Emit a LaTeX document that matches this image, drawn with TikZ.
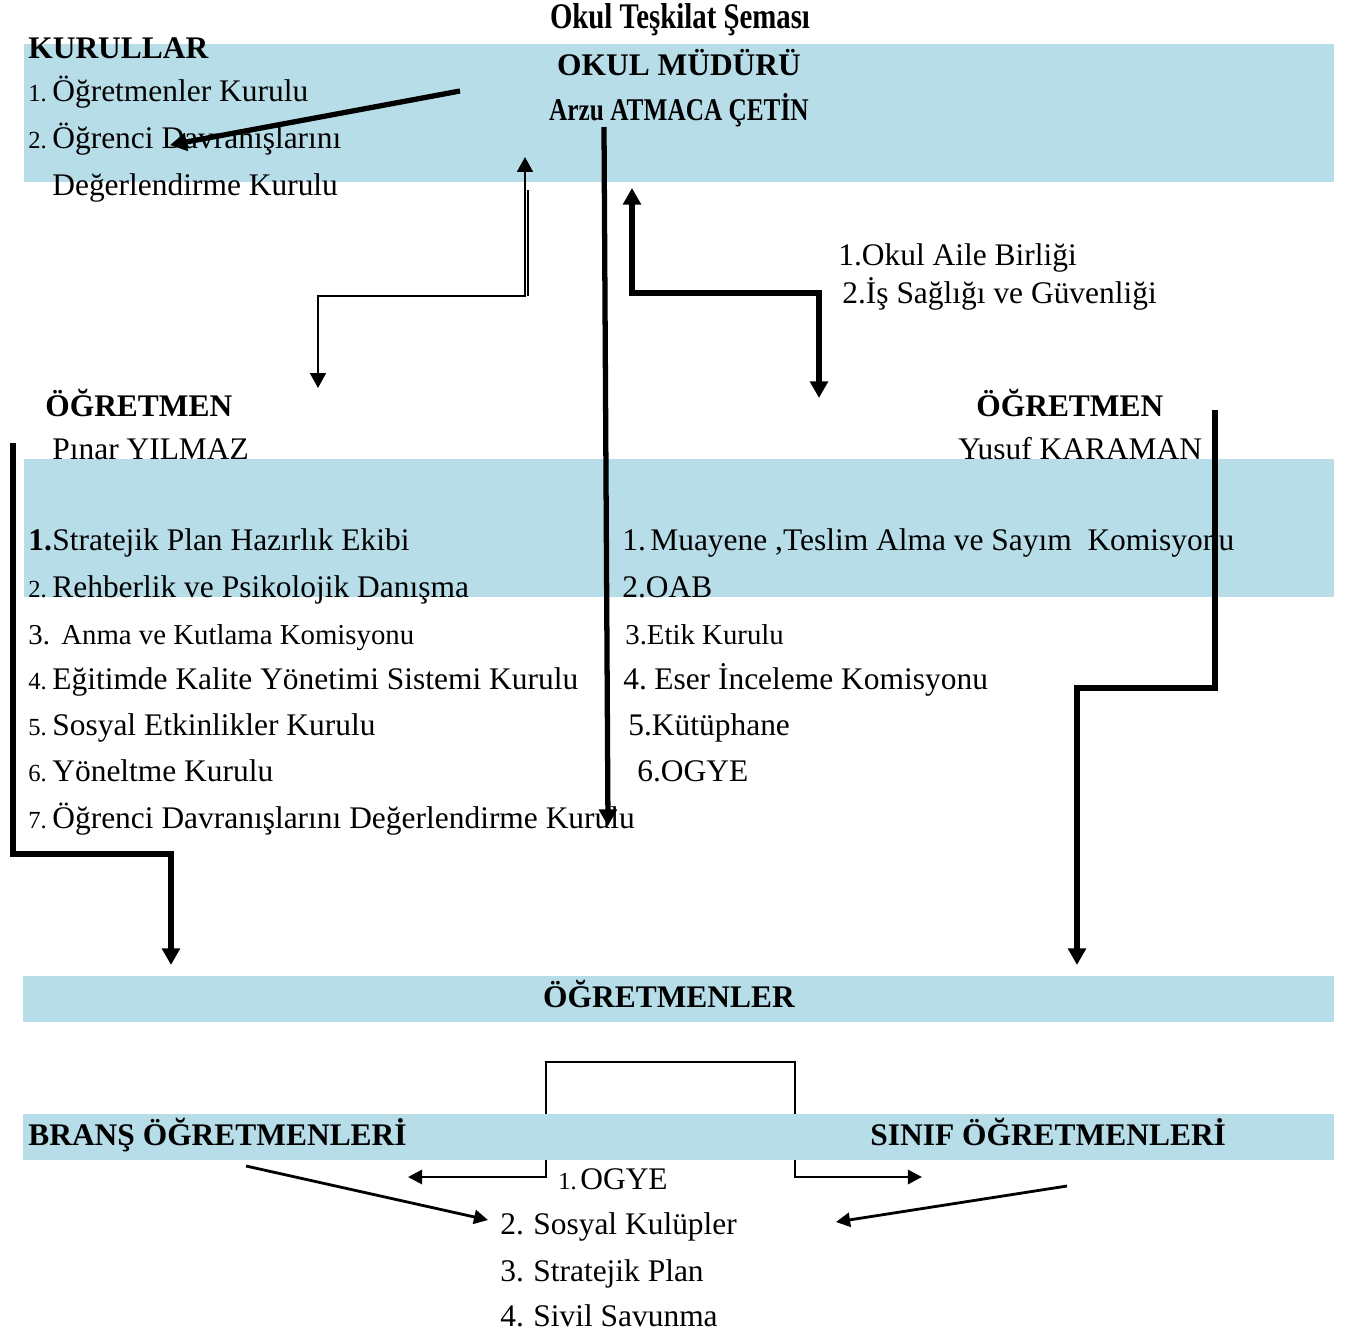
\documentclass[tikz,border=0pt]{standalone}
\usepackage{fontspec}
\setmainfont{Liberation Serif}
\newfontfamily\narrowfont{Liberation Serif}[FakeStretch=0.8]
\usetikzlibrary{arrows.meta,positioning}
\definecolor{bandblue}{RGB}{183,221,232}
\newcommand{\sno}[1]{{\fontsize{14}{16}\selectfont #1}}
\newcommand{\itm}[2][0.48cm]{\makebox[#1][l]{#2}}

\begin{document}
\begin{tikzpicture}[x=0.02cm,y=-0.02cm,
    band/.style={fill=bandblue},
    txt/.style={anchor=base west,inner sep=0pt,font=\fontsize{17.9}{21}\selectfont},
    smalltxt/.style={txt,font=\fontsize{16.4}{19}\selectfont},
    head/.style={txt,font=\fontsize{17.9}{21}\selectfont\bfseries},
    narrowhead/.style={anchor=base,inner sep=0pt},
    thinline/.style={line width=1.3pt},
    midline/.style={line width=1.6pt},
    thickline/.style={line width=3pt},
    bigtip/.tip={Triangle[length=9.5pt,width=10pt]},
    smalltip/.tip={Triangle[length=8.5pt,width=9pt]},
    midtip/.tip={Triangle[length=8pt,width=8pt]}]
    \useasboundingbox (0,0) rectangle (1350,1336);

    % link between the two teacher groups (under the band)
    \coordinate (brL) at (408,1177);
    \coordinate (brLc) at (546,1177);
    \coordinate (brTop) at (546,1062);
    \coordinate (brRc) at (795,1177);
    \coordinate (brR) at (922,1177);
    \draw[midline,{midtip}-{midtip}] (brL) -- (brLc) -- (brTop) -| (brRc) -- (brR);

    % bands
    \fill[band] (24,44) rectangle (1334,182);
    \fill[band] (24,459) rectangle (1334,597);
    \fill[band] (23,976) rectangle (1334,1022);
    \fill[band] (23,1114) rectangle (1334,1160);

    % top
    \node[narrowhead,font={\fontsize{20.5}{23}\selectfont\narrowfont\bfseries}] (title) at (680,28) {Okul Teşkilat Şeması};
    \node[head] (kurullar) at (28,58) {KURULLAR};
    \node[txt] (k1) at (28,101) {\itm{\sno{1.}}Öğretmenler Kurulu};
    \node[txt] (k2) at (28,148) {\itm{\sno{2.}}Öğrenci Davranışlarını};
    \node[txt] (k3) at (52,195) {Değerlendirme Kurulu};
    \node[head,anchor=base] (mudur) at (679,75) {OKUL MÜDÜRÜ};
    \node[narrowhead,font={\fontsize{18}{21}\selectfont\narrowfont\bfseries}] (mudurname) at (679,120) {Arzu ATMACA ÇETİN};
    \node[txt] (aile1) at (838,265) {1.Okul Aile Birliği};
    \node[txt] (aile2) at (842,303) {2.İş Sağlığı ve Güvenliği};

    % teachers
    \node[head] (ogrL) at (45,416) {ÖĞRETMEN};
    \node[txt] (ogrLname) at (52,459) {Pınar YILMAZ};
    \node[head] (ogrR) at (976,416) {ÖĞRETMEN};
    \node[txt] (ogrRname) at (958,459) {Yusuf KARAMAN};

    % left list
    \node[txt] (l1) at (28,550) {\itm{\textbf{1.}}Stratejik Plan Hazırlık Ekibi};
    \node[txt] (l2) at (28,597) {\itm{\sno{2.}}Rehberlik ve Psikolojik Danışma};
    \node[smalltxt] (l3) at (28,644) {\itm[0.66cm]{3.}Anma ve Kutlama Komisyonu};
    \node[txt] (l4) at (28,689) {\itm{\sno{4.}}Eğitimde Kalite Yönetimi Sistemi Kurulu};
    \node[txt] (l5) at (28,735) {\itm{\sno{5.}}Sosyal Etkinlikler Kurulu};
    \node[txt] (l6) at (28,781) {\itm{\sno{6.}}Yöneltme Kurulu};
    \node[txt] (l7) at (28,828) {\itm{\sno{7.}}Öğrenci Davranışlarını Değerlendirme Kurulu};

    % right list
    \node[txt] (r1) at (622,550) {\itm[0.56cm]{1.}Muayene ,Teslim Alma ve Sayım~ Komisyonu};
    \node[txt] (r2) at (622,597) {2.OAB};
    \node[smalltxt] (r3) at (625,644) {3.Etik Kurulu};
    \node[txt] (r4) at (623,689) {\itm[0.62cm]{4.}Eser İnceleme Komisyonu};
    \node[txt] (r5) at (628,735) {5.Kütüphane};
    \node[txt] (r6) at (637,781) {6.OGYE};

    % bottom
    \node[head,anchor=base] (ogretmenler) at (669,1007) {ÖĞRETMENLER};
    \node[head] (brans) at (28,1145) {BRANŞ ÖĞRETMENLERİ};
    \node[head] (sinif) at (870,1145) {SINIF ÖĞRETMENLERİ};
    \node[txt] (b1) at (558,1189) {\itm[0.44cm]{\sno{1.}}OGYE};
    \node[txt] (b2) at (500,1234) {\itm[0.66cm]{2.}Sosyal Kulüpler};
    \node[txt] (b3) at (500,1281) {\itm[0.66cm]{3.}Stratejik Plan};
    \node[txt] (b4) at (500,1326) {\itm[0.66cm]{4.}Sivil Savunma};

    % connectors
    \coordinate (kS) at (460,91);
    \coordinate (kE) at (170,145);
    \draw[thickline,-{bigtip}] (kS) -- (kE);

    \coordinate (mS) at (604,127);
    \coordinate (mE) at (608,826);
    \draw[thickline,-{bigtip}] (mS) -- (mE);

    \coordinate (aUp) at (525,157);
    \coordinate (aBend) at (525,296);
    \coordinate (aDown) at (318,388);
    \coordinate (aDbl) at (528,190);
    \draw[thinline,{smalltip}-{smalltip}] (aUp) -- (aBend) -| (aDown);
    \draw[thinline] (aDbl) -- (aBend -| aDbl);

    \coordinate (oUp) at (632,188);
    \coordinate (oBend) at (632,293);
    \coordinate (oDown) at (819,398);
    \draw[thickline,{bigtip}-{bigtip}] (oUp) -- (oBend) -| (oDown);

    \coordinate (pS) at (13,443);
    \coordinate (pBend) at (13,854);
    \coordinate (pE) at (171,965);
    \draw[thickline,-{bigtip}] (pS) -- (pBend) -| (pE);

    \coordinate (yS) at (1215,410);
    \coordinate (yBend) at (1215,688);
    \coordinate (yE) at (1077,965);
    \draw[thickline,-{bigtip}] (yS) -- (yBend) -| (yE);

    \coordinate (bS) at (246,1166);
    \coordinate (bE) at (488,1220);
    \draw[midline,-{midtip}] (bS) -- (bE);

    \coordinate (sS) at (1067,1186);
    \coordinate (sE) at (836,1222);
    \draw[midline,-{midtip}] (sS) -- (sE);
\end{tikzpicture}
\end{document}
